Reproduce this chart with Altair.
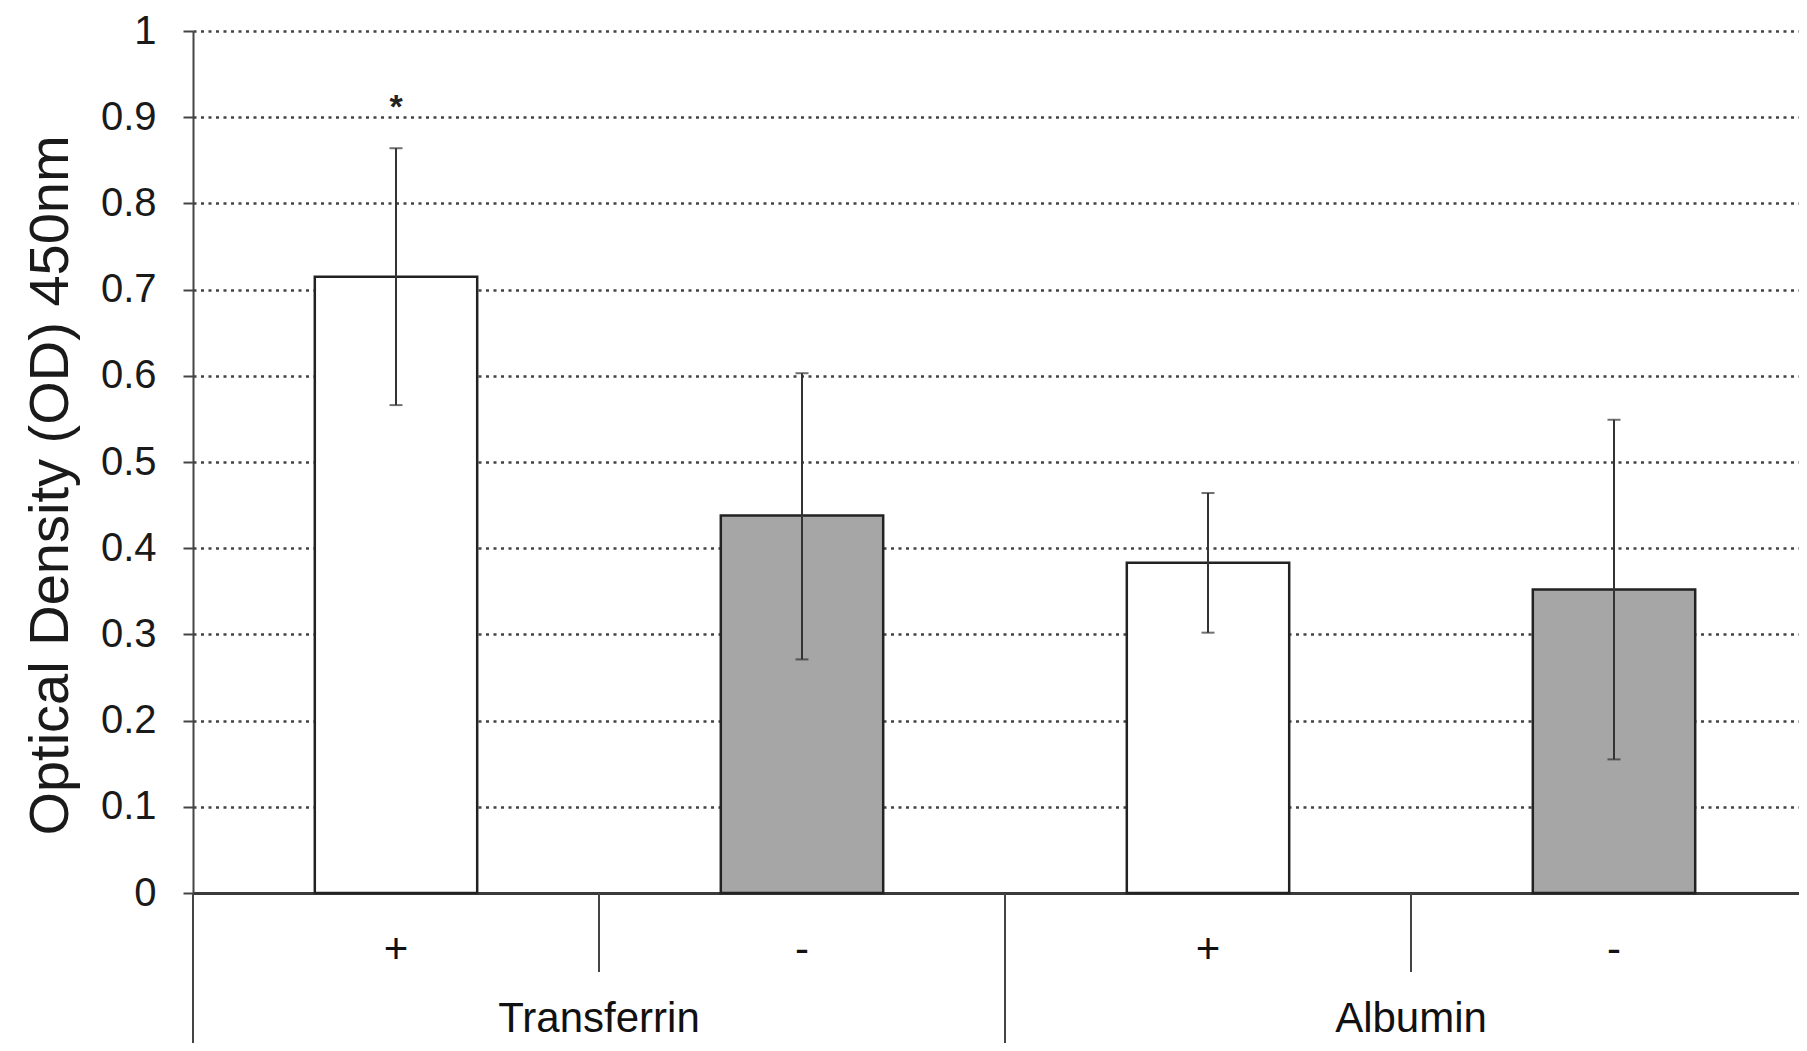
import altair as alt
import pandas as pd

# ---- data ----
categories = ["Transferrin +", "Transferrin -", "Albumin +", "Albumin -"]
treatment = ["+", "-", "+", "-"]
group_of = ["Transferrin", "Transferrin", "Albumin", "Albumin"]
od_mean = [0.715, 0.438, 0.383, 0.352]
err_low = [0.566, 0.271, 0.302, 0.155]
err_high = [0.864, 0.603, 0.464, 0.549]

star_category = ["Transferrin +"]
star_label = ["*"]
star_value = [0.916]

group_names = ["Transferrin", "Albumin"]

short_dividers_after = ["Transferrin +", "Albumin +"]
long_dividers_after = ["Transferrin -"]

y_ticks = [0, 0.1, 0.2, 0.3, 0.4, 0.5, 0.6, 0.7, 0.8, 0.9, 1.0]

# ---- tables ----
bars = pd.DataFrame({
    "category": categories,
    "treatment": treatment,
    "group": group_of,
    "od": od_mean,
    "lo": err_low,
    "hi": err_high,
})
stars = pd.DataFrame({"category": star_category, "label": star_label, "od": star_value})
groups = pd.DataFrame({"group": group_names})
short_div = pd.DataFrame({"category": short_dividers_after})
long_div = pd.DataFrame({"category": long_dividers_after})

W = 1606          # visible plot width (page edge)
XR = 1624         # x range: the reference plot runs past the right edge
H = 862
FONT = "Liberation Sans"

bar_scale = alt.Scale(domain=categories, paddingInner=0.6, paddingOuter=0.3,
                      range=[0, XR])
step_scale = alt.Scale(domain=categories, paddingInner=0, paddingOuter=0,
                       range=[0, XR])
group_scale = alt.Scale(domain=group_names, paddingInner=0, paddingOuter=0,
                        range=[0, XR])
x_axis = alt.Axis(labels=False, ticks=False, title=None, domain=True,
                  domainColor="#3a3a3a", domainWidth=3, grid=False)
y_scale = alt.Scale(domain=[0, 1], nice=False, zero=True)
y_axis = alt.Axis(
    values=y_ticks, format=".1~f", grid=True,
    gridDash=[3, 4.5], gridColor="#444444", gridWidth=2.5,
    tickSize=10, tickColor="#444444", tickWidth=2,
    domainColor="#444444", domainWidth=2,
    labelFont=FONT, labelFontSize=40, labelColor="#1a1a1a", labelPadding=27,
    title="Optical Density (OD) 450nm", titleFont=FONT, titleFontSize=56,
    titleFontWeight="normal", titleColor="#1a1a1a",
    titleAngle=270, titleX=-126, titleY=454, titleAlign="center",
    titleBaseline="alphabetic",
)


def xbar(field="category", with_axis=False):
    return alt.X(f"{field}:N", sort=categories, scale=bar_scale,
                 axis=x_axis if with_axis else None)


def xstep(field="category"):
    return alt.X(f"{field}:N", sort=categories, scale=step_scale, axis=None,
                 bandPosition=1)


def yenc(field):
    return alt.Y(f"{field}:Q", scale=y_scale, axis=y_axis)


bar_layer = alt.Chart(bars).mark_bar(stroke="#222222", strokeWidth=2.5).encode(
    x=xbar(with_axis=True),
    y=yenc("od"),
    color=alt.Color("treatment:N",
                    scale=alt.Scale(domain=["+", "-"], range=["#ffffff", "#a6a6a6"]),
                    legend=None),
)

err_rule = alt.Chart(bars).mark_rule(color="#333333", strokeWidth=2).encode(
    x=xbar(), y=yenc("lo"), y2="hi:Q",
)
cap_lo = alt.Chart(bars).mark_tick(color="#333333", size=13, thickness=2).encode(
    x=xbar(), y=yenc("lo"),
)
cap_hi = alt.Chart(bars).mark_tick(color="#333333", size=13, thickness=2).encode(
    x=xbar(), y=yenc("hi"),
)

star_layer = alt.Chart(stars).mark_text(
    font=FONT, fontSize=34, fontWeight="bold", color="#222222",
    baseline="alphabetic", align="center", dy=15,
).encode(x=xbar(), y=yenc("od"), text="label:N")

sign_layer = alt.Chart(bars).mark_text(
    font=FONT, fontSize=42, color="#111111", baseline="alphabetic", align="center",
).encode(x=xbar(), y=alt.value(H + 70), text="treatment:N")

group_layer = alt.Chart(groups).mark_text(
    font=FONT, fontSize=42, color="#111111", baseline="alphabetic", align="center",
).encode(x=alt.X("group:N", sort=group_names, scale=group_scale, axis=None),
         y=alt.value(H + 139), text="group:N")

short_layer = alt.Chart(short_div).mark_rule(color="#444444", strokeWidth=2).encode(
    x=xstep(), y=alt.value(H), y2=alt.value(H + 79),
)
long_layer = alt.Chart(long_div).mark_rule(color="#444444", strokeWidth=2).encode(
    x=xstep(), y=alt.value(H), y2=alt.value(H + 200),
)
left_ext = alt.Chart(bars).mark_rule(color="#444444", strokeWidth=2).encode(
    x=alt.value(0), y=alt.value(H), y2=alt.value(H + 200),
)

chart = alt.layer(
    bar_layer, err_rule, cap_lo, cap_hi, star_layer,
    sign_layer, group_layer, short_layer, long_layer, left_ext,
).resolve_scale(x="independent").properties(
    width=W, height=H,
    autosize=alt.AutoSizeParams(type="none"),
    padding={"left": 185, "top": 23, "right": 0, "bottom": 150},
    background="white",
).configure_view(stroke=None)

chart.save("out.html", embed_options={"renderer": "svg", "actions": False})
